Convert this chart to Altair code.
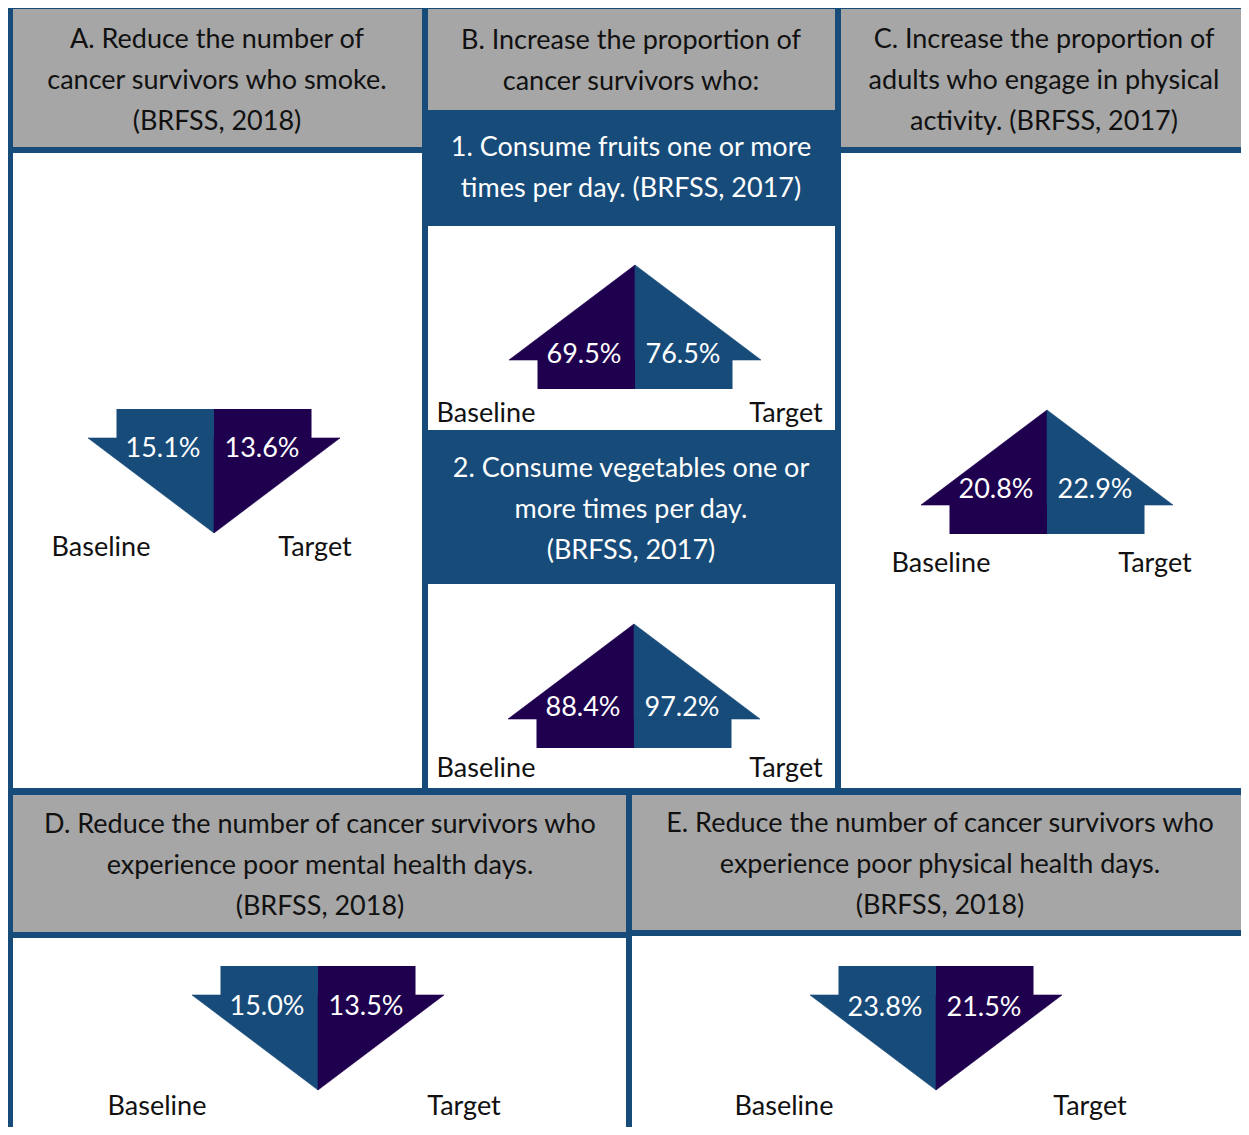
import altair as alt
import pandas as pd

# ---------------- data ----------------
arrow_ids = ["A", "B1", "B2", "C", "D", "E"]
baseline_vals = [15.1, 69.5, 88.4, 20.8, 15.0, 23.8]
target_vals = [13.6, 76.5, 97.2, 22.9, 13.5, 21.5]
baseline_label = "Baseline"
target_label = "Target"

header_A = ["A. Reduce the number of", "cancer survivors who smoke.", "(BRFSS, 2018)"]
header_B = ["B. Increase the proportion of", "cancer survivors who:"]
header_B1 = ["1. Consume fruits one or more", "times per day. (BRFSS, 2017)"]
header_B2 = ["2. Consume vegetables one or", "more times per day.", "(BRFSS, 2017)"]
header_C = ["C. Increase the proportion of", "adults who engage in physical", "activity. (BRFSS, 2017)"]
header_D = ["D. Reduce the number of cancer survivors who",
            "experience poor mental health days.", "(BRFSS, 2018)"]
header_E = ["E. Reduce the number of cancer survivors who",
            "experience poor physical health days.", "(BRFSS, 2018)"]

# ---------------- styles / layout ----------------
BLUE = "#174b79"
PURPLE = "#1f004f"
GREY = "#a6a6a6"
WHITE = "#ffffff"
FONT = "Lato"
FS = 27
LINE_H = 41
TEXT_DY = 2

W, H = 1233, 1119
OFF = 8  # page margin: domain starts here so units equal page pixels

# cells: x1, x2, y1, y2, fill
cells = [
    (7, 1249, 0, 1135, BLUE),          # border / blue background
    (13, 422, 9, 147, GREY),           # A header
    (13, 422, 153, 788, WHITE),        # A body
    (428, 835, 9, 110, GREY),          # B header
    (428, 835, 226, 430, WHITE),       # B1 body
    (428, 835, 584, 788, WHITE),       # B2 body
    (841, 1247, 9, 147, GREY),         # C header
    (841, 1247, 153, 788, WHITE),      # C body
    (13, 626, 795, 932, GREY),         # D header
    (13, 626, 938, 1135, WHITE),       # D body
    (632, 1247, 795, 930, GREY),       # E header
    (632, 1247, 936, 1135, WHITE),     # E body
]

# header text blocks: lines, center x, first line y, color
headers = [
    (header_A, 217, 38, "#111111"),
    (header_B, 631, 39, "#111111"),
    (header_B1, 631, 146, WHITE),
    (header_B2, 631, 467, WHITE),
    (header_C, 1044, 38, "#111111"),
    (header_D, 320, 823, "#111111"),
    (header_E, 940, 822, "#111111"),
]

arrow_cx = [214, 635, 634, 1047, 318, 936]
arrow_seam = [438, 360, 719, 505, 995, 995]
pct_y = [447, 353, 706, 488, 1005, 1006]
base_label_x = [101, 486, 486, 941, 157, 784]
targ_label_x = [315, 786, 786, 1155, 464, 1090]
label_y = [546, 412, 767, 562, 1105, 1105]
TRI_HW, TRI_H = 126, 95
RECT_HW, RECT_H = 97.5, 29
PCT_DL, PCT_DR = 51, 48

# ---------------- build tables ----------------
rect_rows = [dict(x=a, x2=b, y=c, y2=d, fill=f) for a, b, c, d, f in cells]
tri_rows = []
text_rows = []

for i, aid in enumerate(arrow_ids):
    cx, seam = arrow_cx[i], arrow_seam[i]
    down = target_vals[i] < baseline_vals[i]
    left_col, right_col = (BLUE, PURPLE) if down else (PURPLE, BLUE)
    if down:
        ry1, ry2 = seam - RECT_H, seam
        apex = seam + TRI_H
    else:
        ry1, ry2 = seam, seam + RECT_H
        apex = seam - TRI_H
    rect_rows.append(dict(x=cx - RECT_HW, x2=cx, y=ry1, y2=ry2, fill=left_col))
    rect_rows.append(dict(x=cx, x2=cx + RECT_HW, y=ry1, y2=ry2, fill=right_col))
    kl, kr = f"{aid}_L", f"{aid}_R"
    tri_rows += [
        dict(key=kl, x=cx - TRI_HW, y=seam, y2=seam, fill=left_col),
        dict(key=kl, x=cx, y=seam, y2=apex, fill=left_col),
        dict(key=kr, x=cx, y=seam, y2=apex, fill=right_col),
        dict(key=kr, x=cx + TRI_HW, y=seam, y2=seam, fill=right_col),
    ]
    text_rows.append(dict(x=cx - PCT_DL, y=pct_y[i], text=f"{baseline_vals[i]:.1f}%", color=WHITE))
    text_rows.append(dict(x=cx + PCT_DR, y=pct_y[i], text=f"{target_vals[i]:.1f}%", color=WHITE))
    text_rows.append(dict(x=base_label_x[i], y=label_y[i], text=baseline_label, color="#111111"))
    text_rows.append(dict(x=targ_label_x[i], y=label_y[i], text=target_label, color="#111111"))

for lines, hx, hy, col in headers:
    for j, line in enumerate(lines):
        text_rows.append(dict(x=hx, y=hy + j * LINE_H, text=line, color=col))

rect_df = pd.DataFrame(rect_rows)
rect_df["order"] = range(len(rect_df))
tri_df = pd.DataFrame(tri_rows)
text_df = pd.DataFrame(text_rows)
text_df["y"] = text_df["y"] + TEXT_DY

xs = alt.Scale(domain=[OFF, OFF + W])
ys = alt.Scale(domain=[OFF, OFF + H], reverse=True)

rects = alt.Chart(rect_df).mark_rect().encode(
    x=alt.X("x:Q", scale=xs, axis=None),
    x2="x2:Q",
    y=alt.Y("y:Q", scale=ys, axis=None),
    y2="y2:Q",
    fill=alt.Fill("fill:N", scale=None),
    order=alt.Order("order:Q"),
)

tris = alt.Chart(tri_df).mark_area(orient="vertical", strokeWidth=0.6).encode(
    x=alt.X("x:Q", scale=xs, axis=None),
    y=alt.Y("y:Q", scale=ys, axis=None, stack=None),
    y2="y2:Q",
    fill=alt.Fill("fill:N", scale=None),
    stroke=alt.Stroke("fill:N", scale=None),
    detail="key:N",
)

texts = alt.Chart(text_df).mark_text(
    font=FONT, fontSize=FS, align="center", baseline="middle"
).encode(
    x=alt.X("x:Q", scale=xs, axis=None),
    y=alt.Y("y:Q", scale=ys, axis=None),
    text="text:N",
    color=alt.Color("color:N", scale=None),
)

chart = alt.layer(rects, tris, texts).properties(
    width=W, height=H, padding=0, autosize=alt.AutoSizeParams(type="none")
).configure_view(strokeWidth=0)

chart.save("out.html", embed_options={"renderer": "svg", "actions": False})
